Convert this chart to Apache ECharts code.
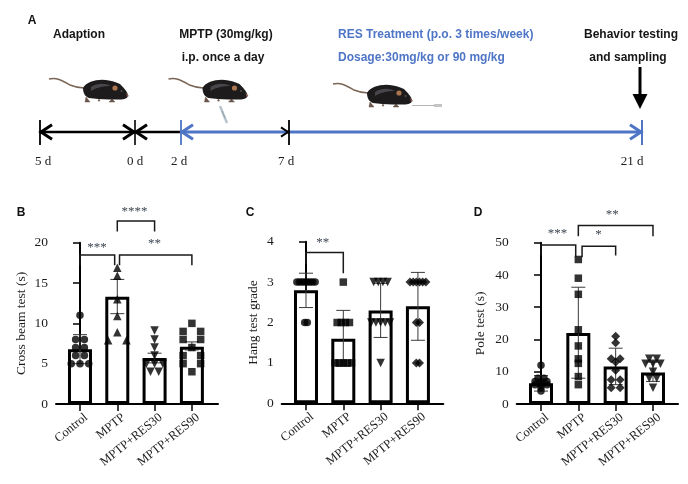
<!DOCTYPE html>
<html><head><meta charset="utf-8">
<style>html,body{margin:0;padding:0;background:#fff}#c{width:688px;height:484px}</style>
<script src="https://cdn.jsdelivr.net/npm/echarts@6/dist/echarts.min.js"></script>
</head><body><div id="c"></div>
<script>
const categories = ['Control','MPTP','MPTP+RES30','MPTP+RES90'];

// Panel B
const bMeans = [6.8,13.3,5.7,7.1];
const bErrLow = [5.0,11.2,5.1,6.7];
const bErrHigh = [8.6,15.45,6.3,7.7];
const bControl = [11,8,8,7,7,6,6,5,5,5];
const bMptp = [16.9,15.9,13,10.9,8.9,7.9,7.9];
const bRes30 = [9.1,8,7,6,5,5,5,4,4];
const bRes90 = [10,9,9,8,8,7,6,6,5,5,4];
const bTicks = [0,20,5];

// Panel C
const cMeans = [2.8,1.6,2.3,2.4];
const cErrLow = [2.37,0.92,1.63,1.56];
const cErrHigh = [3.22,2.3,2.97,3.24];
const cControl = [3,3,3,3,3,3,3,3,2,2];
const cMptp = [3,2,2,2,2,1,1,1,1,1];
const cRes30 = [3,3,3,3,2,2,2,2,2,1];
const cRes90 = [3,3,3,3,3,3,2,2,1,1];
const cTicks = [0,4,1];

// Panel D
const dMeans = [6.4,22,11.6,9.8];
const dErrLow = [4,8,6,7];
const dErrHigh = [8.8,36.2,17.3,13];
const dControl = [12,8,8,7,7,7,6,6,6,5,4];
const dMptp = [44.8,39,34,23,18,14,12.6,8.5,6];
const dRes30 = [21,19,14,14,13,10.5,7.5,7.5,5,5];
const dRes90 = [14,14,12.5,12.5,12.5,10,8,8,5];
const dTicks = [0,50,10];

// Significance brackets: from, to, top, left leg end, right leg end
const bBrackets = [[0,0.93,18.47,17.2,17.2],[1.06,3,18.47,17.2,17.2],[1,2,22.7,21.4,21.4]];
const cBrackets = [[0,1,3.735,3.45,3.22]];
const dBrackets = [[0,0.93,49.3,46,45.5],[1.1,2,48.9,45.5,46],[1,3,55.3,52,52]];
// Stars: text, x, y
const bStars = [['***',0.455,19.45],['**',2,19.85],['****',1.46,23.9]];
const cStars = [['**',0.45,3.98]];
const dStars = [['***',0.44,52.7],['*',1.54,52.5],['**',1.91,58.6]];

// Timeline texts
const dayLabels = ['5 d','0 d','2 d','7 d','21 d'];
const blackNotes = ['Adaption','MPTP (30mg/kg)','i.p. once a day','Behavior testing','and sampling'];
const blueNotes = ['RES Treatment (p.o. 3 times/week)','Dosage:30mg/kg or 90 mg/kg'];
const panelLetters = ['A','B','C','D'];

const SERIF = '"Liberation Serif","Times New Roman",serif';
const SANS = '"Liberation Sans",Arial,sans-serif';
const INK = '#1c1c1c', BLUE = '#4f75c6';

function swarm(values, groupIndex, spacing){
  const counts = {}, seen = {};
  values.forEach(v => counts[v] = (counts[v]||0)+1);
  return values.map(v => {
    const i = seen[v] = (seen[v]===undefined ? 0 : seen[v]+1);
    return [groupIndex + (i-(counts[v]-1)/2)*spacing, v];
  });
}

const grids=[], xAxes=[], yAxes=[], series=[];
function panel(idx, box, ticks, name, gap, xr, means, lo, hi, groups, symbols, spacings, brackets, stars){
  grids.push({left:box[0],top:box[1],width:box[2],height:box[3],containLabel:false});
  xAxes.push({gridIndex:idx,type:'value',min:xr[0],max:xr[1],splitLine:{show:false},
    axisLine:{show:true,onZero:false,lineStyle:{color:'#000',width:2}},
    axisTick:{show:true,length:7,customValues:[0,1,2,3],lineStyle:{color:'#000',width:1.5}},
    axisLabel:{show:true,customValues:[0,1,2,3],rotate:39,margin:17,padding:[0,-8,0,0],color:INK,fontFamily:SERIF,fontSize:12.6,
      formatter:v=>categories[v]}});
  yAxes.push({gridIndex:idx,type:'value',min:ticks[0],max:ticks[1],interval:ticks[2],splitLine:{show:false},
    name:name,nameLocation:'middle',nameGap:gap,nameRotate:90,
    nameTextStyle:{color:INK,fontFamily:SERIF,fontSize:13.5},
    axisLine:{show:true,lineStyle:{color:'#000',width:2}},
    axisTick:{show:true,length:7,lineStyle:{color:'#000',width:1.5}},
    axisLabel:{margin:8,color:INK,fontFamily:SERIF,fontSize:13.5}});
  series.push({type:'bar',xAxisIndex:idx,yAxisIndex:idx,barWidth:24,z:1,silent:true,
    itemStyle:{color:'#fff',borderColor:'#000',borderWidth:3},
    data:means.map((m,i)=>[i,m])});
  series.push({type:'custom',xAxisIndex:idx,yAxisIndex:idx,z:2,silent:true,clip:false,
    data:means.map((m,i)=>[i,lo[i],hi[i]]),
    encode:{x:0,y:[1,2]},
    renderItem:(p,api)=>{
      const a=api.coord([api.value(0),api.value(1)]), b=api.coord([api.value(0),api.value(2)]);
      const st={stroke:'#3a3a3a',lineWidth:1,fill:null};
      return {type:'group',children:[
        {type:'line',shape:{x1:a[0],y1:a[1],x2:b[0],y2:b[1]},style:st},
        {type:'line',shape:{x1:a[0]-7,y1:a[1],x2:a[0]+7,y2:a[1]},style:st},
        {type:'line',shape:{x1:b[0]-7,y1:b[1],x2:b[0]+7,y2:b[1]},style:st}]};
    }});
  groups.forEach((g,i)=>{
    const s=symbols[i];
    series.push({type:'scatter',xAxisIndex:idx,yAxisIndex:idx,z:3,silent:true,clip:false,
      symbol:s.symbol,symbolSize:s.size,symbolRotate:s.rotate||0,
      itemStyle:{color:'#000'},data:swarm(g,i,spacings[i])});
  });
  series.push({type:'custom',xAxisIndex:idx,yAxisIndex:idx,z:4,silent:true,clip:false,
    data:brackets,encode:{x:[0,1],y:[2,3,4]},
    renderItem:(p,api)=>{
      const x1=api.value(0),x2=api.value(1),t=api.value(2);
      return {type:'polyline',shape:{points:[api.coord([x1,api.value(3)]),api.coord([x1,t]),api.coord([x2,t]),api.coord([x2,api.value(4)])]},
        style:{stroke:'#1a1a1a',lineWidth:1.5,fill:null}};
    }});
  series.push({type:'custom',xAxisIndex:idx,yAxisIndex:idx,z:4,silent:true,clip:false,
    data:stars.map(s=>[s[1],s[2]]),encode:{x:0,y:1},
    renderItem:(p,api)=>{
      const c=api.coord([api.value(0),api.value(1)]);
      return {type:'text',style:{text:stars[p.dataIndex][0],x:c[0],y:c[1],align:'center',verticalAlign:'middle',
        fill:'#3c4650',font:'13px '+SERIF}};
    }});
}
const circle={symbol:'circle',size:7.5}, square={symbol:'rect',size:7.5}, tri={symbol:'triangle',size:8.5},
      tdown={symbol:'triangle',size:8.5,rotate:180}, diam={symbol:'diamond',size:9};

panel(0,[56,242.7,162,161.3],bTicks,'Cross beam test (s)',28,[-0.643,3.7],bMeans,bErrLow,bErrHigh,
  [bControl,bMptp,bRes30,bRes90],[circle,tri,tdown,square],[0.235,0.49,0.22,0.47],bBrackets,bStars);
panel(1,[281.7,241.7,161.6,161.6],cTicks,'Hang test grade',21,[-0.651,3.68],cMeans,cErrLow,cErrHigh,
  [cControl,cMptp,cRes30,cRes90],[circle,square,tdown,diam],[0.07,0.11,0.125,0.085],cBrackets,cStars);
panel(2,[516.7,242.7,161.3,161.3],dTicks,'Pole test (s)',29,[-0.651,3.67],dMeans,dErrLow,dErrHigh,
  [dControl,dMptp,dRes30,dRes90],[circle,square,diam,tdown],[0.16,0.1,0.24,0.2],dBrackets,dStars);

// ---- Panel A diagram ----
const g=[];
function ln(x1,y1,x2,y2,color,w){g.push({type:'line',shape:{x1,y1,x2,y2},style:{stroke:color,lineWidth:w}});}
function chev(x,y,dir,color,s,w){g.push({type:'polyline',shape:{points:[[x+dir*s,y-s*0.65],[x,y],[x+dir*s,y+s*0.65]]},style:{stroke:color,lineWidth:w,fill:null}});}
function txt(t,x,y,font,fill,align){g.push({type:'text',x,y,style:{text:t,font,fill,textAlign:align||'center',textVerticalAlign:'middle'}});}

function shapeOf(name,d){echarts.graphic.registerShape(name,echarts.graphic.extendPath(d,{}));return name;}
const TAIL=shapeOf('mouseTail','M0 1 C8 -1 14 3 21 7 C26 9 30 10 35 10');
const BODY=shapeOf('mouseBody','M34 10 C38 3 50 0.5 60 2.5 C65 3.5 69 5 71 6 C74 9 78 13 79 17 C79 21 74 22 68 21.5 L60 21.5 C52 21 46 21 40 20 C37 19 34 16 34 10Z');
const LEGS=shapeOf('mouseLegs','M37 19 L41 24 L36 24 Z M63 21 L60 24 L66 24 Z M50 21 L49 23 L51 23 Z');
const SHEEN=shapeOf('mouseSheen','M42 9 C48 5 56 5 62 8 C56 8 48 9 42 13Z');
const NOSE=shapeOf('mouseNose','M77 15 L80 18 L78 19Z');
function mouse(x,y){
  g.push({type:'group',x,y,children:[
    {type:TAIL,style:{stroke:'#7a6656',lineWidth:1.5,fill:null}},
    {type:LEGS,style:{fill:'#6a5548',stroke:'#6a5548',lineWidth:0.5}},
    {type:BODY,style:{fill:'#1d1b1c'}},
    {type:SHEEN,style:{fill:'#47474b'}},
    {type:'circle',shape:{cx:66,cy:10,r:2.6},style:{fill:'#a9764f'}},
    {type:'circle',shape:{cx:72.5,cy:13,r:0.9},style:{fill:'#555'}},
    {type:NOSE,style:{fill:'#8a5a50'}}
  ]});
}
mouse(49,78); mouse(168.5,78); mouse(333,83);
// syringes
ln(220,106,227,123,'#b9c5cc',2.5); ln(222,111,225,118,'#8fa0aa',1);
ln(412,105.5,436,105.5,'#b5b5b5',1); ln(434,105.5,442,105.5,'#c4c4c4',3);

const L=132;
ln(40,L,135,L,'#000',2.6); ln(135,L,181,L,'#000',2.6); ln(181,L,642,L,BLUE,3);
ln(40,120,40,145,'#000',1.8); ln(135,120,135,145,'#000',1.6); ln(289,120,289,145,'#000',1.8); ln(181,120,181,145,BLUE,1.8); ln(642,120,642,145,BLUE,2);
chev(41,L,1,'#000',11,3); chev(134,L,-1,'#000',11,3); chev(136,L,1,'#000',11,3);
chev(182,L,1,BLUE,11,3); chev(641,L,-1,BLUE,11,3); chev(288,L,-1,'#000',7,2);
// sampling arrow
ln(640,67,640,96,'#000',3);
g.push({type:'polygon',shape:{points:[[632.5,94],[647.5,94],[640,109]]},style:{fill:'#000'}});

const dayX=[43,135,179,286,632];
dayLabels.forEach((t,i)=>txt(t,dayX[i],162,'13px '+SERIF,INK));
const BOLD='bold 12px '+SANS;
const noteX=[79,226,223,631,628], noteY=[34.5,34.5,57.5,34.5,57.5];
blackNotes.forEach((t,i)=>txt(t,noteX[i],noteY[i],BOLD,'#161616'));
blueNotes.forEach((t,i)=>txt(t,338,i?57.5:34.5,BOLD,BLUE,'left'));
const letterX=[32,21,250,478], letterY=[21,213,213,213];
panelLetters.forEach((t,i)=>txt(t,letterX[i],letterY[i],'bold 12px '+SANS,'#111'));

const chart=echarts.init(document.getElementById('c'),null,{renderer:'canvas'});
chart.setOption({animation:false,backgroundColor:'#fff',grid:grids,xAxis:xAxes,yAxis:yAxes,series,
  graphic:{elements:g.map(e=>Object.assign({silent:true},e))}});
</script></body></html>
